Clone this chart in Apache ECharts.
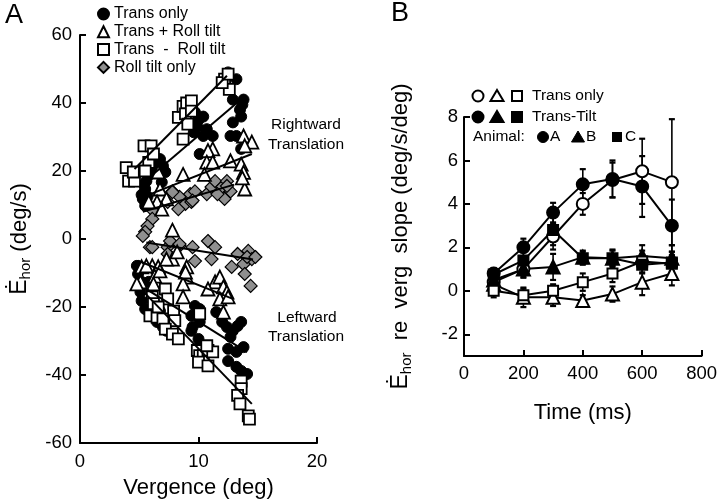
<!DOCTYPE html>
<html>
<head>
<meta charset="utf-8">
<script src="https://cdn.jsdelivr.net/npm/echarts@6/dist/echarts.min.js"></script>
<style>
html,body{margin:0;padding:0;background:#fff;}
#c{width:720px;height:504px;}
</style>
</head>
<body>
<div id="c"></div>
<script>
// ---------- Panel A data (Vergence deg, Ehor deg/s) ----------
const rightTransOnly = [[5.3,11.8],[5.5,14.7],[5.6,17],[5.9,19],[6.75,23.5],[7.0,21.5],[7.2,19.7],[6.9,16.7],[5.5,9.8],[10.1,25],[9.6,31.4],[10,35],[10.4,36],[10.7,32.3],[10.4,30.3],[11.2,30.3],[9.7,37.3],[12.9,41],[13.5,38],[13.8,41],[13.6,36],[12.9,34.3],[13.2,30.3],[12.7,30.3],[13.6,26.5],[12.5,49],[13.2,47],[5.2,13],[5.4,16],[6.2,21],[9.9,33],[13.7,39.5],[6.3,22.5],[5.7,12.5]];
const rightTransPlus = [[11.2,26.5],[10.8,26],[10.7,22.6],[11.2,22.6],[10.5,19],[12.7,23],[13.6,22],[13.8,19.6],[13.8,30.3],[14.5,28.5],[13.9,27.4],[13.9,14.7],[8.7,19],[6.6,19.7],[6.75,14.7],[7.3,11.8],[6.5,10.9],[6.9,8.8],[5.8,10.9],[7.8,2.6],[13.7,18]];
const rightTransMinus = [[12.2,47],[12.6,44],[12.0,46],[12.5,48.5],[3.9,21],[4.1,17],[4.6,17],[4.5,19.7],[5.4,27.4],[6.0,27.4],[5.8,22.5],[6.2,25],[8.3,35.8],[8.7,39],[9.0,40],[9.4,40.6],[8.9,36.8],[9.1,33.8],[8.7,29.4],[9.4,37.6],[5.5,20]];
const rightRoll = [[7.8,14],[8.4,12.4],[8.9,10.3],[9.4,10.9],[9.3,13.2],[8.3,8.8],[10.7,13.2],[11.1,15.3],[11.4,17],[12,15.3],[12.4,17],[12.7,14],[12.2,11.8],[11.6,13.2],[6.2,8.2],[6.1,5.9],[5.7,3.8],[5.5,2.1],[7.4,10.9],[9.7,14],[9.5,11.3],[12.4,15.6],[7.8,13.8]];
const leftRoll = [[5.3,0.9],[5.9,-2.4],[7.4,-2.4],[7.4,-4.4],[8.4,-2],[9.5,-2.4],[9.7,-6.5],[10.8,-0.6],[11.4,-2.4],[11.1,-5.9],[12.8,-8.2],[13.3,-4.4],[14.2,-3.5],[14.5,-5.9],[13.8,-7.4],[13.9,-10.3],[14.4,-13.8],[14.1,-5.3],[14.8,-5.3],[7.6,-0.6],[6.1,-2.4],[8.4,-1.5]];
const leftTransPlus = [[5.1,-12.6],[5.2,-8.2],[6.1,-7.9],[6.6,-8.2],[6.3,-10.9],[6.2,-13.2],[7.8,-5.9],[8.2,-3.8],[9.0,-8.2],[9.0,-11.2],[8.7,-13.2],[8.9,-9.7],[11.4,-12.6],[11.8,-11.2],[10.8,-14.7],[12.1,-14.1],[12.4,-15.6],[11.8,-17.6],[12.5,-17],[8.7,-17],[12.1,-21.5],[6.75,-9.4],[4.8,-13.2],[5.6,-7.9],[7.3,-5.9]];
const leftTransOnly = [[4.8,-7.9],[4.9,-10.3],[5.2,-12.6],[5.1,-15.6],[5.2,-18.2],[5.5,-20.6],[5.9,-22.6],[6.5,-24.4],[7.0,-25.9],[7.3,-27],[5.8,-12.6],[6.1,-17],[6.2,-19.7],[6.75,-21.2],[9.7,-19.7],[10.1,-20.6],[9.4,-22.6],[9.5,-25.9],[9.4,-27],[10.0,-29.4],[10.1,-31.5],[11.5,-21.5],[12,-24.4],[12.4,-25.9],[12.9,-27],[13.3,-25.6],[13.6,-24.4],[12.7,-28.8],[12.5,-32.3],[13.2,-33.2],[13.8,-31.8],[12.5,-35.9],[13.2,-37.6],[13.6,-38.8],[14.1,-39.7],[10.1,-24.4]];
const leftTransMinus = [[6.1,-17],[6.2,-19],[5.9,-22.6],[6.5,-23],[7.0,-23.5],[7.2,-14.7],[7.4,-17.6],[6.6,-20],[7.9,-21.2],[8.0,-24],[7.2,-26.5],[7.8,-28],[8.3,-29.4],[10.1,-22],[9.9,-32.8],[10.1,-34.3],[10.4,-34.3],[10.0,-36.2],[10.8,-32.8],[11.2,-33.2],[10.8,-37.3],[10.7,-31.4],[13.6,-41.8],[13.6,-44],[13.3,-46],[13.5,-48.5],[14.2,-52],[14.3,-53]];
// regression lines (endpoints)
const fitRightMinus = [[4.6,20.6],[12.4,48]];
const fitRightOnly = [[6.0,18.5],[13.9,42]];
const fitRightPlus = [[5.3,12.3],[14.5,25]];
const fitRightRoll = [[5.3,8],[13,16]];
const fitLeftRoll = [[5.6,-1],[14.6,-6]];
const fitLeftPlus = [[4.9,-6.4],[12.9,-17.6]];
const fitLeftOnly = [[5.5,-14.5],[14.1,-33.3]];
const fitLeftMinus = [[5.5,-16],[14.5,-48.5]];

// ---------- Panel B data (Time ms, slope deg/s/deg) ----------
const timesB = [100,200,300,400,500,600,700];
const transOnlyA = [0.4,1.0,2.5,4.0,5.1,5.5,5.0];
const transOnlyAErr = [0.2,0.35,0.6,0.5,0.8,1.5,2.9];
const transTiltA = [0.8,2.0,3.6,4.9,5.15,4.8,3.0];
const transTiltAErr = [0.2,0.4,0.45,0.7,0.85,1.4,1.2];
const transOnlyB = [0.3,-0.3,-0.3,-0.45,-0.15,0.4,0.8];
const transOnlyBErr = [0.3,0.45,0.4,0.25,0.35,0.6,0.55];
const transTiltB = [0.5,1.0,1.1,1.55,1.5,1.6,1.5];
const transTiltBErr = [0.3,0.4,0.6,0.3,0.4,0.5,0.6];
const transOnlyC = [0.0,-0.2,0.0,0.4,0.8,1.35,1.25];
const transOnlyCErr = [0.3,0.3,0.3,0.4,0.4,0.5,0.4];
const transTiltC = [0.75,1.4,2.8,1.5,1.5,1.2,1.3];
const transTiltCErr = [0.3,0.4,0.7,0.3,0.35,0.4,0.5];
const ticksBy = [-2,0,2,4,6,8];

const FONT = '"Liberation Sans", Arial, Helvetica, sans-serif';
const chart = echarts.init(document.getElementById('c'), null, {renderer:'canvas'});

function scatterA(name, data, symbol, size, fill, bw){
  return {type:'scatter', name, data, xAxisIndex:0, yAxisIndex:0, symbol, symbolSize:size,
    itemStyle:{color:fill, borderColor:'#000', borderWidth:bw, opacity:1}, z:2, silent:true};
}
function fitA(data){
  return {type:'line', name:'fit', data, xAxisIndex:0, yAxisIndex:0, showSymbol:false, symbol:'none',
    lineStyle:{color:'#000', width:2}, z:5, silent:true};
}
function zipB(vals){ return timesB.map((t,i)=>[t, vals[i]]); }
function errB(vals, errs){ return timesB.map((t,i)=>[t, vals[i]-errs[i], vals[i]+errs[i]]); }
function lineB(name, vals, symbol, size, fill){
  return {type:'line', name, data:zipB(vals), xAxisIndex:1, yAxisIndex:1, symbol, symbolSize:size,
    showAllSymbol:true, lineStyle:{color:'#000', width:2},
    itemStyle:{color:fill, borderColor:'#000', borderWidth:2}, z:4, silent:true};
}
function errSeries(vals, errs){
  return {type:'custom', xAxisIndex:1, yAxisIndex:1, data:errB(vals, errs), z:3, silent:true,
    renderItem:function(params, api){
      const x = api.value(0), lo = api.value(1), hi = api.value(2);
      const p1 = api.coord([x, hi]), p2 = api.coord([x, lo]);
      const w = 3;
      return {type:'group', children:[
        {type:'line', shape:{x1:p1[0], y1:p1[1], x2:p2[0], y2:p2[1]}, style:{stroke:'#000', lineWidth:1.6}},
        {type:'line', shape:{x1:p1[0]-w, y1:p1[1], x2:p1[0]+w, y2:p1[1]}, style:{stroke:'#000', lineWidth:2.2}},
        {type:'line', shape:{x1:p2[0]-w, y1:p2[1], x2:p2[0]+w, y2:p2[1]}, style:{stroke:'#000', lineWidth:2.2}}
      ]};
    }};
}

const axisCommon = {
  axisLine:{show:true, onZero:false, lineStyle:{color:'#000', width:2}},
  axisTick:{show:true, inside:true, length:6, lineStyle:{color:'#000', width:2}},
  splitLine:{show:false},
  axisLabel:{color:'#000', fontSize:18.5, fontFamily:FONT},
  nameTextStyle:{color:'#000', fontSize:22, fontFamily:FONT}
};

const txt = (x, y, s, size, align) => ({type:'text', x, y,
  style:{text:s, fill:'#000', font:`${size}px ${FONT}`, textAlign:align||'left', textVerticalAlign:'middle'}});

const legBx = [478, 497, 517];
function legShapes(y, filled){
  const fill = filled ? '#000' : '#fff';
  return [
    {type:'circle', shape:{cx:legBx[0], cy:y, r:5.5}, style:{fill, stroke:'#000', lineWidth:2}},
    {type:'polygon', shape:{points:[[legBx[1], y-6],[legBx[1]+6.5, y+5],[legBx[1]-6.5, y+5]]}, style:{fill, stroke:'#000', lineWidth:2}},
    {type:'rect', shape:{x:legBx[2]-5, y:y-5, width:10, height:10}, style:{fill, stroke:'#000', lineWidth:2}}
  ];
}
const nameRich = {
  e:{fontSize:23, fontFamily:FONT, color:'#000', verticalAlign:'middle', lineHeight:26},
  s:{fontSize:15, fontFamily:FONT, color:'#000', verticalAlign:'bottom', lineHeight:26},
  t:{fontSize:22, fontFamily:FONT, color:'#000', verticalAlign:'middle', lineHeight:26}
};

const option = {
  backgroundColor:'#fff',
  animation:false,
  textStyle:{fontFamily:FONT},
  grid:[
    {left:80, top:35, width:237, height:408},
    {left:464, top:117, width:239, height:239}
  ],
  legend:{
    data:['Trans only','Trans + Roll tilt','Trans  -  Roll tilt','Roll tilt only'],
    orient:'vertical', left:97, top:6, padding:0, itemWidth:11, itemHeight:11, itemGap:1.8,
    textStyle:{color:'#000', fontSize:16, fontFamily:FONT, lineHeight:16},
    selectedMode:false
  },
  xAxis:[
    Object.assign({}, axisCommon, {type:'value', gridIndex:0, min:0, max:20, interval:10,
      name:'Vergence (deg)', nameLocation:'middle', nameGap:34,
      axisLabel:Object.assign({}, axisCommon.axisLabel, {margin:9})}),
    Object.assign({}, axisCommon, {type:'value', gridIndex:1, min:0, max:800, interval:200,
      name:'Time (ms)', nameLocation:'middle', nameGap:46,
      axisLabel:Object.assign({}, axisCommon.axisLabel, {margin:8})})
  ],
  yAxis:[
    Object.assign({}, axisCommon, {type:'value', gridIndex:0, min:-60, max:60, interval:20,
      name:'{e|Ė}{s|hor}{t| (deg/s)}', nameLocation:'middle', nameGap:47, nameRotate:90,
      nameTextStyle:{color:'#000', fontSize:22, fontFamily:FONT, rich:nameRich},
      axisLabel:Object.assign({}, axisCommon.axisLabel, {margin:8})}),
    Object.assign({}, axisCommon, {type:'value', gridIndex:1, min:-3, max:8, interval:1,
      name:'{e|Ė}{s|hor}{t|  re  verg  slope (deg/s/deg)}', nameLocation:'middle', nameGap:50, nameRotate:90,
      nameTextStyle:{color:'#000', fontSize:22, fontFamily:FONT, rich:nameRich},
      axisTick:Object.assign({}, axisCommon.axisTick, {customValues:ticksBy}),
      axisLabel:Object.assign({}, axisCommon.axisLabel, {margin:6, customValues:ticksBy})})
  ],
  graphic:[
    txt(5, 16, 'A', 27),
    txt(391, 14, 'B', 27),
    txt(306, 125, 'Rightward', 15.5, 'center'),
    txt(306, 145, 'Translation', 15.5, 'center'),
    txt(307, 318, 'Leftward', 15.5, 'center'),
    txt(306, 337, 'Translation', 15.5, 'center'),
    ...legShapes(96, false),
    ...legShapes(117, true),
    txt(532, 96, 'Trans only', 15.5),
    txt(532, 117, 'Trans-Tilt', 15.5),
    txt(473, 137, 'Animal:', 15.5),
    {type:'circle', shape:{cx:543, cy:137, r:5.5}, style:{fill:'#000', stroke:'#000', lineWidth:1}},
    txt(550, 137, 'A', 15.5),
    {type:'polygon', shape:{points:[[578,131],[584.5,142],[571.5,142]]}, style:{fill:'#000', stroke:'#000', lineWidth:1}},
    txt(586, 137, 'B', 15.5),
    {type:'rect', shape:{x:612, y:132, width:10, height:10}, style:{fill:'#000'}},
    txt(625, 137, 'C', 15.5)
  ],
  series:[
    scatterA('Roll tilt only', rightRoll, 'diamond', 13, '#8f8f8f', 1.2),
    scatterA('Roll tilt only', leftRoll, 'diamond', 13, '#8f8f8f', 1.2),
    scatterA('Trans only', rightTransOnly, 'circle', 11, '#000', 1),
    scatterA('Trans only', leftTransOnly, 'circle', 11, '#000', 1),
    scatterA('Trans + Roll tilt', rightTransPlus, 'triangle', 13, '#fff', 1.8),
    scatterA('Trans + Roll tilt', leftTransPlus, 'triangle', 13, '#fff', 1.8),
    scatterA('Trans  -  Roll tilt', rightTransMinus, 'rect', 11, '#fff', 1.8),
    scatterA('Trans  -  Roll tilt', leftTransMinus, 'rect', 11, '#fff', 1.8),
    fitA(fitRightMinus), fitA(fitRightOnly), fitA(fitRightPlus), fitA(fitRightRoll),
    fitA(fitLeftRoll), fitA(fitLeftPlus), fitA(fitLeftOnly), fitA(fitLeftMinus),
    errSeries(transOnlyA, transOnlyAErr), errSeries(transTiltA, transTiltAErr),
    errSeries(transOnlyB, transOnlyBErr), errSeries(transTiltB, transTiltBErr),
    errSeries(transOnlyC, transOnlyCErr), errSeries(transTiltC, transTiltCErr),
    lineB('A trans only', transOnlyA, 'circle', 12, '#fff'),
    lineB('A trans-tilt', transTiltA, 'circle', 12, '#000'),
    lineB('B trans only', transOnlyB, 'triangle', 13, '#fff'),
    lineB('B trans-tilt', transTiltB, 'triangle', 13, '#000'),
    lineB('C trans only', transOnlyC, 'rect', 10, '#fff'),
    lineB('C trans-tilt', transTiltC, 'rect', 10, '#000')
  ]
};
chart.setOption(option);
</script>
</body>
</html>
